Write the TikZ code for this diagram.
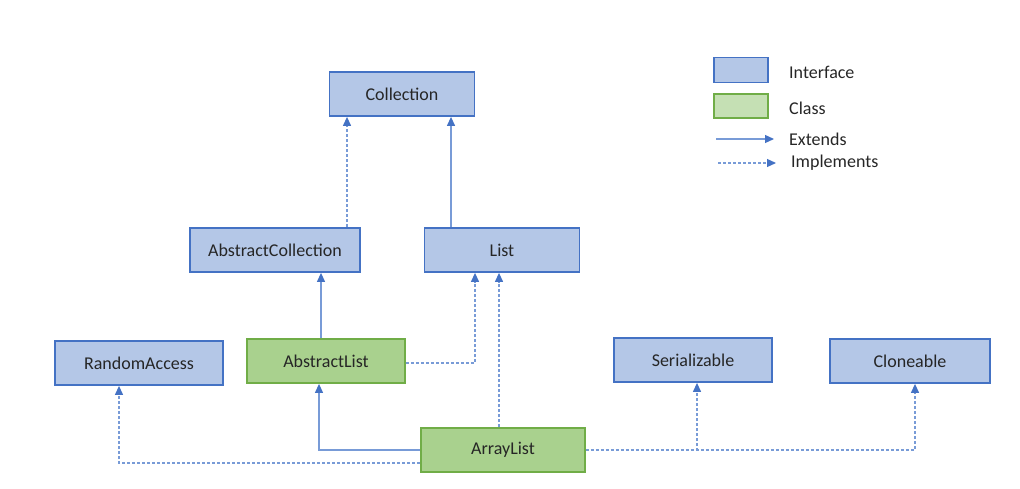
\documentclass[tikz,border=0pt]{standalone}
\usepackage{fontspec}
\setmainfont{Carlito}
\usetikzlibrary{arrows.meta,calc}
\definecolor{if_fill}{RGB}{180, 199, 231}
\definecolor{if_line}{RGB}{68, 114, 196}
\definecolor{cl_fill}{RGB}{169, 209, 142}
\definecolor{cl_line}{RGB}{112, 173, 71}
\definecolor{cl_light}{RGB}{197, 224, 180}
\definecolor{ar_line}{RGB}{120, 155, 215}
\tikzstyle{ifn}=[rectangle,fill=if_fill,draw=if_line,line width=1.8pt,
  minimum height=44pt,inner sep=2pt,font=\fontsize{18}{21}\selectfont,text=black!85]
\tikzstyle{cln}=[rectangle,fill=cl_fill,draw=cl_line,line width=1.8pt,
  minimum height=44pt,inner sep=2pt,font=\fontsize{18}{21}\selectfont,text=black!85]
\tikzstyle{lbl}=[anchor=west,inner sep=0pt,font=\fontsize{18}{21}\selectfont,text=black!85]
\tikzstyle{ext}=[draw=ar_line,line width=1.2pt,-{Triangle[width=8pt,length=9pt,color=if_line]}]
\tikzstyle{imp}=[ext,dash pattern=on 3pt off 2pt]
\tikzstyle{none}=[]

\begin{document}
\begin{tikzpicture}[x=1pt,y=-1pt]
            \useasboundingbox (0, 0) rectangle (1020, 488);
            \node [style=ifn, minimum width=145pt] (0) at (402, 94) {Collection};
            \node [style=ifn, minimum width=155pt] (1) at (502, 250) {List};
            \node [style=ifn, minimum width=170pt] (2) at (275, 250) {AbstractCollection};
            \node [style=cln, minimum width=158pt] (3) at (326, 361) {AbstractList};
            \node [style=ifn, minimum width=168pt] (4) at (139, 363) {RandomAccess};
            \node [style=ifn, minimum width=158pt] (5) at (693, 360) {Serializable};
            \node [style=ifn, minimum width=160pt] (6) at (910, 361) {Cloneable};
            \node [style=cln, minimum width=164pt] (7) at (503, 450) {ArrayList};
            % legend
            \node [style=ifn, minimum width=54pt, minimum height=25pt] (8) at (741, 70) {};
            \node [style=cln, fill=cl_light, minimum width=54pt, minimum height=24pt] (9) at (741, 106) {};
            \node [style=lbl] (10) at (789, 72) {Interface};
            \node [style=lbl] (11) at (789, 108) {Class};
            \node [style=lbl] (12) at (789, 139) {Extends};
            \node [style=lbl] (13) at (791, 163) {Implements};
            \coordinate (14) at (716, 139);
            \coordinate (15) at (718, 163);
            \draw [style=ext] (14) to ([xshift=-15pt]12.west);
            \draw [style=imp] (15) to ([xshift=-15pt]13.west);
            % edges
            \draw [style=imp] ([xshift=72pt]2.north) to ([xshift=72pt]2.north |- 0.south);
            \draw [style=ext] ([xshift=-51pt]1.north) to ([xshift=-51pt]1.north |- 0.south);
            \draw [style=ext] ([xshift=-5pt]3.north) to ([xshift=-5pt]3.north |- 2.south);
            \draw [style=imp] ([yshift=-2pt]3.east) -| ([xshift=-27pt]1.south);
            \draw [style=imp] ([xshift=-4pt]7.north) to ([xshift=-4pt]7.north |- 1.south);
            \draw [style=ext] (7.west) -| ([xshift=-7pt]3.south);
            \draw [style=imp] ([yshift=-13pt]7.west) -| ([xshift=-20pt]4.south);
            \draw [style=imp] (7.east) -| ([xshift=4pt]5.south);
            \draw [style=imp] (7.east) -| ([xshift=5pt]6.south);
    \end{tikzpicture}
\end{document}
